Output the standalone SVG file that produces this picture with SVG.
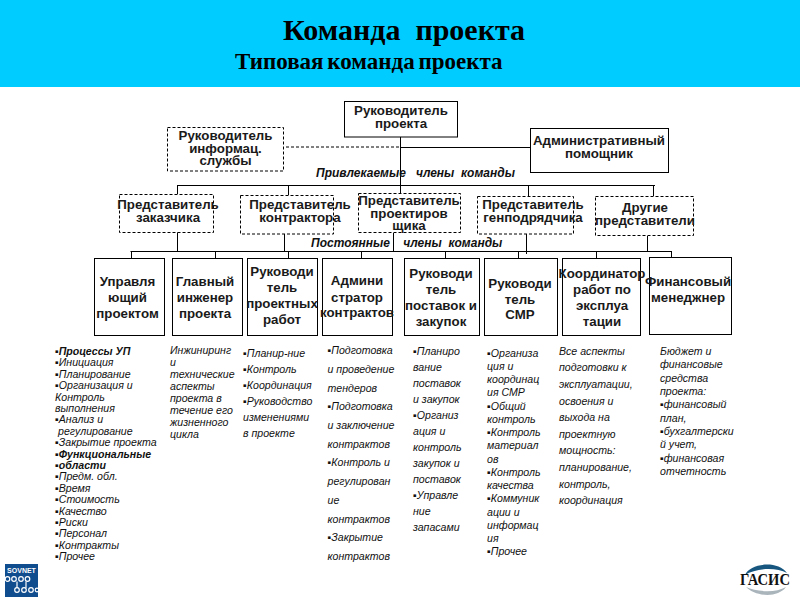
<svg xmlns="http://www.w3.org/2000/svg" width="800" height="600" viewBox="0 0 800 600">
<style>
.bg{fill:#fff}
.head{fill:#00ccff}
.t1,.t2{font-family:"Liberation Serif",serif;font-weight:bold;fill:#000;white-space:pre}
.t1{font-size:30px}
.t2{font-size:23px}
.box{fill:#fff;stroke:#000;stroke-width:1}
.dash{stroke-dasharray:3 2}
.lbl{font-family:"Liberation Sans",Arial,sans-serif;font-weight:bold;font-size:13.3px;fill:#1a1a1a;text-anchor:middle}
.conn{fill:none;stroke:#000;stroke-width:1}
.sec{font-family:"Liberation Sans",Arial,sans-serif;font-weight:bold;font-style:italic;font-size:12px;fill:#111;white-space:pre}
.li{font-family:"Liberation Sans",Arial,sans-serif;font-style:italic;font-size:10.6px;fill:#111}
.lib{font-weight:bold}
</style>
<rect class="bg" width="800" height="600"/>
<g id="header">
<rect class="head" width="800" height="87"/>
<text class="t1" x="283" y="40">Команда  проекта</text>
<text class="t2" x="235" y="69" word-spacing="-2">Типовая команда проекта</text>
</g>
<g id="connectors" class="conn">
<path d="M400.500 137V186"/>
<path d="M286 147H400" stroke-dasharray="3 2"/>
<path d="M400 147.500H530"/>
<path d="M177.500 185.500H655"/>
<path d="M177.500 185V194M288.500 185V195M400.500 185V193M528.500 185V196M653.500 185V196"/>
<path d="M177.500 232V251M284.500 234V251M393.500 233V251M526.500 234V254M647.500 236V251"/>
<path d="M130.500 251.500H671.500"/>
<path d="M131.500 251V259M215.500 251V258M288.500 251V258M361.500 251V258M445.500 251V258M518.500 251V258M596.500 251V258M671.500 251V258"/>
</g>
<g id="n-pm"><rect class="box" x="344.500" y="101.500" width="113" height="35.500"/><text class="lbl"><tspan x="401" y="115">Руководитель</tspan><tspan x="401" y="128">проекта</tspan></text></g>
<g id="n-info"><rect class="box dash" x="167.500" y="127.500" width="116" height="43.500"/><text class="lbl"><tspan x="225.500" y="140">Руководитель</tspan><tspan x="225.500" y="153">информац.</tspan><tspan x="225.500" y="165">службы</tspan></text></g>
<g id="n-admin"><rect class="box" x="530.500" y="128.500" width="138" height="44"/><text class="lbl"><tspan x="599" y="145">Административный</tspan><tspan x="599" y="158">помощник</tspan></text></g>
<g id="n-customer"><rect class="box dash" x="119.500" y="194.500" width="94" height="38"/><text class="lbl"><tspan x="168" y="209">Представитель</tspan><tspan x="168" y="222">заказчика</tspan></text></g>
<g id="n-contractor"><rect class="box dash" x="240.500" y="195.500" width="93" height="38.500"/><text class="lbl"><tspan x="300" y="209">Представитель</tspan><tspan x="300" y="222">контрактора</tspan></text></g>
<g id="n-designer"><rect class="box dash" x="358.500" y="193.500" width="102" height="39"/><text class="lbl"><tspan x="409" y="205">Представитель</tspan><tspan x="409" y="218">проектиров</tspan><tspan x="409" y="230">щика</tspan></text></g>
<g id="n-general"><rect class="box dash" x="477.500" y="196.500" width="96" height="37.500"/><text class="lbl"><tspan x="533" y="209">Представитель</tspan><tspan x="533" y="222">генподрядчика</tspan></text></g>
<g id="n-other"><rect class="box dash" x="595.500" y="196.500" width="98" height="39"/><text class="lbl"><tspan x="645" y="212">Другие</tspan><tspan x="645" y="225">представители</tspan></text></g>
<g id="n-manager"><rect class="box" x="94.500" y="258.500" width="70" height="77"/><text class="lbl"><tspan x="127.500" y="286">Управля</tspan><tspan x="127.500" y="302">ющий</tspan><tspan x="127.500" y="318">проектом</tspan></text></g>
<g id="n-engineer"><rect class="box" x="172.500" y="258.500" width="70" height="77"/><text class="lbl"><tspan x="205" y="286">Главный</tspan><tspan x="205" y="302">инженер</tspan><tspan x="205" y="318">проекта</tspan></text></g>
<g id="n-works"><rect class="box" x="247.500" y="258.500" width="70" height="77"/><text class="lbl"><tspan x="282" y="276">Руководи</tspan><tspan x="282" y="292">тель</tspan><tspan x="282" y="308">проектных</tspan><tspan x="282" y="324">работ</tspan></text></g>
<g id="n-contracts"><rect class="box" x="322.500" y="258.500" width="70" height="77"/><text class="lbl"><tspan x="357" y="285">Админи</tspan><tspan x="357" y="302">стратор</tspan><tspan x="357" y="317">контрактов</tspan></text></g>
<g id="n-supply"><rect class="box" x="404.500" y="258.500" width="75" height="77"/><text class="lbl"><tspan x="441" y="278">Руководи</tspan><tspan x="441" y="294">тель</tspan><tspan x="441" y="310">поставок и</tspan><tspan x="441" y="326">закупок</tspan></text></g>
<g id="n-smr"><rect class="box" x="484.500" y="258.500" width="73" height="77"/><text class="lbl"><tspan x="520" y="288">Руководи</tspan><tspan x="520" y="304">тель</tspan><tspan x="520" y="319">СМР</tspan></text></g>
<g id="n-coord"><rect class="box" x="562.500" y="258.500" width="78" height="77"/><text class="lbl"><tspan x="602" y="278">Координатор</tspan><tspan x="602" y="294">работ по</tspan><tspan x="602" y="310">эксплуа</tspan><tspan x="602" y="326">тации</tspan></text></g>
<g id="n-finance"><rect class="box" x="649.500" y="257.500" width="82" height="77"/><text class="lbl"><tspan x="688" y="286">Финансовый</tspan><tspan x="688" y="302">менеджнер</tspan></text></g>
<g id="labels">
<text class="sec" x="316" y="177">Привлекаемые   члены  команды</text>
<text class="sec" x="311" y="247">Постоянные    члены  команды</text>
</g>
<g id="list-1"><text class="li">
<tspan x="55" y="355" class="lib">▪Процессы УП</tspan>
<tspan x="55" y="366.400">▪Инициация</tspan>
<tspan x="55" y="377.800">▪Планирование</tspan>
<tspan x="55" y="389.200">▪Организация и</tspan>
<tspan x="55" y="400.600">Контроль</tspan>
<tspan x="55" y="412">выполнения</tspan>
<tspan x="55" y="423.400">▪Анализ и</tspan>
<tspan x="58" y="434.800">регулирование</tspan>
<tspan x="55" y="446.200">▪Закрытие проекта</tspan>
<tspan x="55" y="457.600" class="lib">▪Функциональные</tspan>
<tspan x="55" y="469" class="lib">▪области</tspan>
<tspan x="55" y="480.400">▪Предм. обл.</tspan>
<tspan x="55" y="491.800">▪Время</tspan>
<tspan x="55" y="503.200">▪Стоимость</tspan>
<tspan x="55" y="514.600">▪Качество</tspan>
<tspan x="55" y="526">▪Риски</tspan>
<tspan x="55" y="537.400">▪Персонал</tspan>
<tspan x="55" y="548.800">▪Контракты</tspan>
<tspan x="55" y="560.200">▪Прочее</tspan>
</text></g>
<g id="list-2"><text class="li">
<tspan x="170" y="354">Инжиниринг</tspan>
<tspan x="170" y="366">и</tspan>
<tspan x="170" y="378">технические</tspan>
<tspan x="170" y="390">аспекты</tspan>
<tspan x="170" y="402">проекта в</tspan>
<tspan x="170" y="414">течение его</tspan>
<tspan x="170" y="426">жизненного</tspan>
<tspan x="170" y="438">цикла</tspan>
</text></g>
<g id="list-3"><text class="li">
<tspan x="243" y="357">▪Планир-ние</tspan>
<tspan x="243" y="373">▪Контроль</tspan>
<tspan x="243" y="389">▪Координация</tspan>
<tspan x="243" y="405">▪Руководство</tspan>
<tspan x="243" y="421">изменениями</tspan>
<tspan x="243" y="437">в проекте</tspan>
</text></g>
<g id="list-4"><text class="li">
<tspan x="327.500" y="354">▪Подготовка</tspan>
<tspan x="327.500" y="372.700">и проведение</tspan>
<tspan x="327.500" y="391.500">тендеров</tspan>
<tspan x="327.500" y="410.200">▪Подготовка</tspan>
<tspan x="327.500" y="428.900">и заключение</tspan>
<tspan x="327.500" y="447.600">контрактов</tspan>
<tspan x="327.500" y="466.400">▪Контроль и</tspan>
<tspan x="327.500" y="485.100">регулирован</tspan>
<tspan x="327.500" y="503.800">ие</tspan>
<tspan x="327.500" y="522.500">контрактов</tspan>
<tspan x="327.500" y="541.300">▪Закрытие</tspan>
<tspan x="327.500" y="560">контрактов</tspan>
</text></g>
<g id="list-5"><text class="li">
<tspan x="413" y="355">▪Планиро</tspan>
<tspan x="413" y="371">вание</tspan>
<tspan x="413" y="387">поставок</tspan>
<tspan x="413" y="403">и закупок</tspan>
<tspan x="413" y="419">▪Организ</tspan>
<tspan x="413" y="435">ация и</tspan>
<tspan x="413" y="451">контроль</tspan>
<tspan x="413" y="467">закупок и</tspan>
<tspan x="413" y="483">поставок</tspan>
<tspan x="413" y="499">▪Управле</tspan>
<tspan x="413" y="515">ние</tspan>
<tspan x="413" y="531">запасами</tspan>
</text></g>
<g id="list-6"><text class="li">
<tspan x="487" y="356.500">▪Организа</tspan>
<tspan x="487" y="369.700">ция и</tspan>
<tspan x="487" y="383">координац</tspan>
<tspan x="487" y="396.200">ия СМР</tspan>
<tspan x="487" y="409.500">▪Общий</tspan>
<tspan x="487" y="422.700">контроль</tspan>
<tspan x="487" y="436">▪Контроль</tspan>
<tspan x="487" y="449.200">материал</tspan>
<tspan x="487" y="462.500">ов</tspan>
<tspan x="487" y="475.700">▪Контроль</tspan>
<tspan x="487" y="489">качества</tspan>
<tspan x="487" y="502.200">▪Коммуник</tspan>
<tspan x="487" y="515.500">ации и</tspan>
<tspan x="487" y="528.700">информац</tspan>
<tspan x="487" y="542">ия</tspan>
<tspan x="487" y="555.200">▪Прочее</tspan>
</text></g>
<g id="list-7"><text class="li">
<tspan x="559" y="354.700">Все аспекты</tspan>
<tspan x="559" y="371.300">подготовки к</tspan>
<tspan x="559" y="387.900">эксплуатации,</tspan>
<tspan x="559" y="404.500">освоения и</tspan>
<tspan x="559" y="421.100">выхода на</tspan>
<tspan x="559" y="437.700">проектную</tspan>
<tspan x="559" y="454.300">мощность:</tspan>
<tspan x="559" y="470.900">планирование,</tspan>
<tspan x="559" y="487.500">контроль,</tspan>
<tspan x="559" y="504.100">координация</tspan>
</text></g>
<g id="list-8"><text class="li">
<tspan x="660" y="355">Бюджет и</tspan>
<tspan x="660" y="368.300">финансовые</tspan>
<tspan x="660" y="381.700">средства</tspan>
<tspan x="660" y="395">проекта:</tspan>
<tspan x="660" y="408.300">▪финансовый</tspan>
<tspan x="660" y="421.700">план,</tspan>
<tspan x="660" y="435">▪бухгалтерски</tspan>
<tspan x="660" y="448.300">й учет,</tspan>
<tspan x="660" y="461.700">▪финансовая</tspan>
<tspan x="660" y="475">отчетность</tspan>
</text></g>
<g id="logo-sovnet">
<rect x="5" y="564" width="33" height="33" fill="#0f4d8f"/>
<text x="21.500" y="572.500" font-family="Liberation Sans,sans-serif" font-weight="bold" font-size="7px" fill="#fff" text-anchor="middle">SOVNET</text>
<g fill="none" stroke="#fff" stroke-width="1.200">
<circle cx="7.500" cy="579" r="2.300"/><circle cx="14" cy="579" r="2.300"/><circle cx="21" cy="579" r="2.300"/><circle cx="27.500" cy="579" r="2.300"/>
<circle cx="17" cy="590" r="2.300"/><circle cx="24" cy="590" r="2.300"/><circle cx="31" cy="590" r="2.300"/><circle cx="37" cy="590" r="1.800"/>
<path d="M17 581.500V588M26 581.500V588"/>
</g>
</g>
<g id="logo-gasis">
<path d="M745 575C750 563 778 560 787 573C776 567 756 568 745 575Z" fill="#17577f"/>
<path d="M746 587C756 597 778 598 786 587C776 593 757 592 746 587Z" fill="#a9b4bb"/>
<text x="765" y="585" font-family="Liberation Serif,serif" font-weight="bold" font-size="17px" fill="#111" text-anchor="middle" textLength="50" lengthAdjust="spacingAndGlyphs">ГАСИС</text>
</g>
</svg>
